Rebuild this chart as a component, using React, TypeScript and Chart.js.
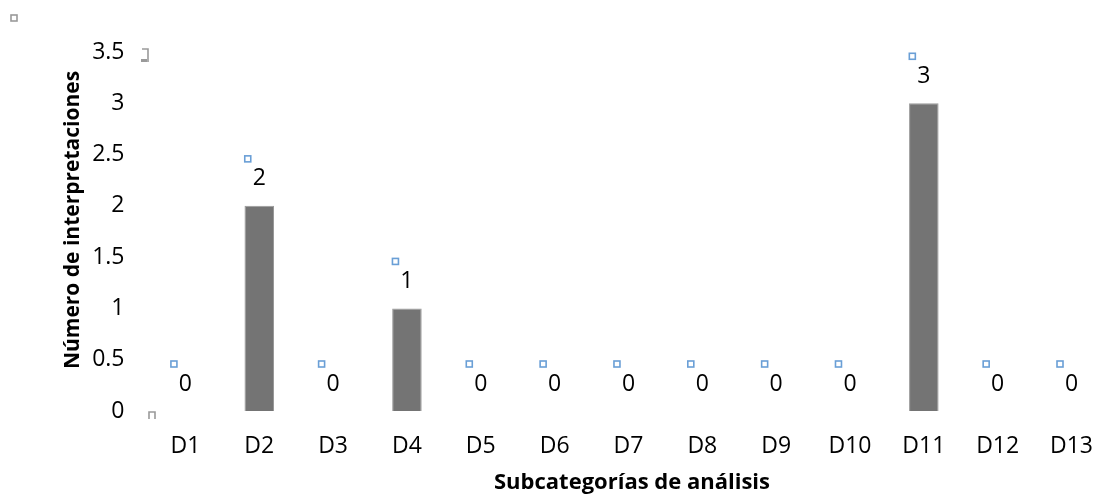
import { useEffect, useRef } from "react";
import { Chart, registerables } from "chart.js";

Chart.register(...registerables);

const categories = ["D1", "D2", "D3", "D4", "D5", "D6", "D7", "D8", "D9", "D10", "D11", "D12", "D13"];
const values = [0, 2, 0, 1, 0, 0, 0, 0, 0, 0, 3, 0, 0];
const yMin = 0;
const yMax = 3.5;
const yStep = 0.5;
const xTitle = "Subcategorías de análisis";
const yTitle = "Número de interpretaciones";

const FONT = "'Open Sans', 'DejaVu Sans', sans-serif";
const CANVAS_W = 1115;
const CANVAS_H = 500;

const labelsPlugin = {
  id: "barLabels",
  afterDatasetsDraw(chart: any) {
    const ctx = chart.ctx;
    const meta = chart.getDatasetMeta(0);
    ctx.save();
    ctx.font = `23px ${FONT}`;
    ctx.fillStyle = "#000";
    ctx.textAlign = "center";
    ctx.textBaseline = "middle";
    meta.data.forEach((bar: any, i: number) => {
      const v = chart.data.datasets[0].data[i];
      ctx.fillText(String(v), bar.x, bar.y - 27);
      ctx.strokeStyle = "#6a9fd6";
      ctx.lineWidth = 1.6;
      ctx.strokeRect(bar.x - 14.5, bar.y - 50, 6, 6);
    });
    ctx.restore();
  },
};

const titlesPlugin = {
  id: "axisTitles",
  afterDraw(chart: any) {
    const ctx = chart.ctx;
    ctx.save();
    ctx.fillStyle = "#000";
    ctx.textAlign = "center";
    ctx.textBaseline = "middle";
    ctx.font = `bold 22px ${FONT}`;
    ctx.fillText(xTitle, 632, 483);
    ctx.font = `bold 21px ${FONT}`;
    ctx.translate(73, 220);
    ctx.rotate(-Math.PI / 2);
    ctx.fillText(yTitle, 0, 0);
    ctx.restore();
    // selection handle artifacts
    ctx.save();
    ctx.strokeStyle = "#9a9a9a";
    ctx.lineWidth = 1.6;
    ctx.strokeRect(11, 15, 6, 6);
    ctx.beginPath();
    ctx.moveTo(142, 49);
    ctx.lineTo(148, 49);
    ctx.lineTo(148, 62);
    ctx.stroke();
    ctx.fillStyle = "#9a9a9a";
    ctx.fillRect(141, 59, 6, 3);
    ctx.beginPath();
    ctx.moveTo(149, 419);
    ctx.lineTo(149, 412);
    ctx.lineTo(155, 412);
    ctx.lineTo(155, 419);
    ctx.stroke();
    ctx.restore();
  },
};

export default function App() {
  const ref = useRef<HTMLCanvasElement | null>(null);

  useEffect(() => {
    if (!ref.current) return;
    const chart = new Chart(ref.current, {
      type: "bar",
      data: {
        labels: categories,
        datasets: [
          {
            data: values,
            backgroundColor: "#747474",
            borderColor: "#9a9a9a",
            borderWidth: 1,
            barPercentage: 0.4,
            categoryPercentage: 1,
          },
        ],
      },
      options: {
        animation: false,
        responsive: false,
        devicePixelRatio: 1,
        layout: { padding: { top: 52, left: 0, right: 0, bottom: 0 } },
        plugins: {
          legend: { display: false },
          tooltip: { enabled: false },
        },
        scales: {
          x: {
            grid: { display: false, drawTicks: false },
            border: { display: false },
            ticks: {
              color: "#000",
              font: { family: FONT, size: 23 },
              padding: 22,
              maxRotation: 0,
              autoSkip: false,
            },
            afterFit(scale: any) {
              scale.height = 89;
            },
          },
          y: {
            min: yMin,
            max: yMax,
            grid: { display: false, drawTicks: false },
            border: { display: false },
            ticks: {
              stepSize: yStep,
              color: "#000",
              font: { family: FONT, size: 23 },
              padding: 24,
              callback: (v: any) => String(v),
            },
            afterFit(scale: any) {
              scale.width = 148.5;
            },
          },
        },
      },
      plugins: [labelsPlugin, titlesPlugin],
    });
    return () => chart.destroy();
  }, []);

  return (
    <div style={{ position: "absolute", left: 0, top: 0, width: 1103, height: 500, overflow: "hidden", background: "#fff" }}>
      <canvas ref={ref} width={CANVAS_W} height={CANVAS_H} style={{ display: "block" }} />
    </div>
  );
}
